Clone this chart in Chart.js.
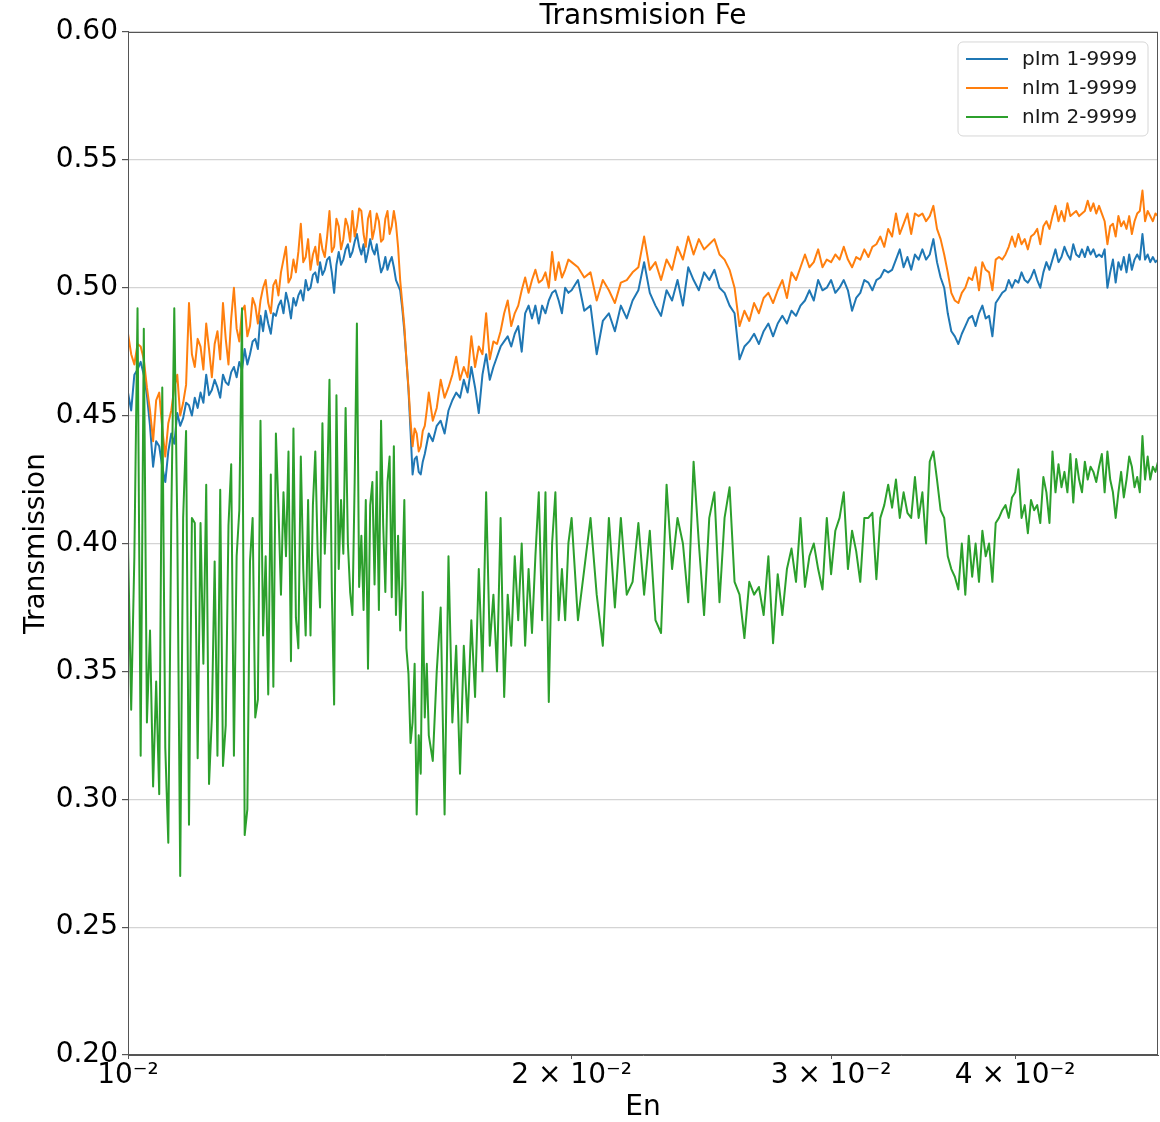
<!DOCTYPE html>
<html>
<head>
<meta charset="utf-8">
<title>Transmision Fe</title>
<script src="https://cdn.jsdelivr.net/npm/chart.js@4/dist/chart.umd.min.js"></script>
<style>
  html, body { margin: 0; padding: 0; background: #ffffff; }
  #wrap { width: 1160px; height: 1122px; }
</style>
</head>
<body>
<div id="wrap"><canvas id="chart" width="1160" height="1122"></canvas></div>
<script>
// Neutron energy grid shared by the three runs (finer below 0.016)
const energy = [
  0.01000,0.01005,0.01010,0.01015,0.01020,0.01025,0.01030,0.01035,0.01040,0.01045,
  0.01050,0.01055,0.01060,0.01065,0.01070,0.01075,0.01080,0.01085,0.01090,0.01095,
  0.01100,0.01105,0.01110,0.01115,0.01120,0.01125,0.01130,0.01135,0.01140,0.01145,
  0.01150,0.01155,0.01160,0.01165,0.01170,0.01175,0.01180,0.01185,0.01190,0.01195,
  0.01200,0.01205,0.01210,0.01215,0.01220,0.01225,0.01230,0.01235,0.01240,0.01245,
  0.01250,0.01255,0.01260,0.01265,0.01270,0.01275,0.01280,0.01285,0.01290,0.01295,
  0.01300,0.01305,0.01310,0.01315,0.01320,0.01325,0.01330,0.01335,0.01340,0.01345,
  0.01350,0.01355,0.01360,0.01365,0.01370,0.01375,0.01380,0.01385,0.01390,0.01395,
  0.01400,0.01405,0.01410,0.01415,0.01420,0.01425,0.01430,0.01435,0.01440,0.01445,
  0.01450,0.01455,0.01460,0.01465,0.01470,0.01475,0.01480,0.01485,0.01490,0.01495,
  0.01500,0.01505,0.01510,0.01515,0.01520,0.01525,0.01530,0.01535,0.01540,0.01545,
  0.01550,0.01555,0.01560,0.01565,0.01570,0.01575,0.01580,0.01585,0.01590,0.01595,
  0.0160,0.0161,0.0162,0.0163,0.0164,0.0165,0.0166,0.0167,0.0168,0.0169,
  0.0170,0.0171,0.0172,0.0173,0.0174,0.0175,0.0176,0.0177,0.0178,0.0179,
  0.0180,0.0181,0.0182,0.0183,0.0184,0.0185,0.0186,0.0187,0.0188,0.0189,
  0.0190,0.0191,0.0192,0.0193,0.0194,0.0195,0.0196,0.0197,0.0198,0.0199,
  0.0200,0.0202,0.0204,0.0206,0.0208,0.0210,0.0212,0.0214,0.0216,0.0218,
  0.0220,0.0222,0.0224,0.0226,0.0228,0.0230,0.0232,0.0234,0.0236,0.0238,
  0.0240,0.0242,0.0244,0.0246,0.0248,0.0250,0.0252,0.0254,0.0256,0.0258,
  0.0260,0.0262,0.0264,0.0266,0.0268,0.0270,0.0272,0.0274,0.0276,0.0278,
  0.0280,0.0282,0.0284,0.0286,0.0288,0.0290,0.0292,0.0294,0.0296,0.0298,
  0.0300,0.0302,0.0304,0.0306,0.0308,0.0310,0.0312,0.0314,0.0316,0.0318,
  0.0320,0.0322,0.0324,0.0326,0.0328,0.0330,0.0332,0.0334,0.0336,0.0338,
  0.0340,0.0342,0.0344,0.0346,0.0348,0.0350,0.0352,0.0354,0.0356,0.0358,
  0.0360,0.0362,0.0364,0.0366,0.0368,0.0370,0.0372,0.0374,0.0376,0.0378,
  0.0380,0.0382,0.0384,0.0386,0.0388,0.0390,0.0392,0.0394,0.0396,0.0398,
  0.0400,0.0402,0.0404,0.0406,0.0408,0.0410,0.0412,0.0414,0.0416,0.0418,
  0.0420,0.0422,0.0424,0.0426,0.0428,0.0430,0.0432,0.0434,0.0436,0.0438,
  0.0440,0.0442,0.0444,0.0446,0.0448,0.0450,0.0452,0.0454,0.0456,0.0458,
  0.0460,0.0462,0.0464,0.0466,0.0468,0.0470,0.0472,0.0474,0.0476,0.0478,
  0.0480,0.0482,0.0484,0.0486,0.0488,0.0490,0.0492,0.0494,0.0496,0.0498,
  0.0500
];

// pIm 1-9999
const plm1 = [
  0.459,0.452,0.466,0.468,0.471,0.466,0.458,0.446,0.430,0.440,
  0.438,0.430,0.424,0.436,0.443,0.439,0.451,0.446,0.449,0.455,
  0.454,0.450,0.457,0.453,0.459,0.455,0.466,0.458,0.460,0.464,
  0.461,0.457,0.466,0.463,0.462,0.467,0.469,0.465,0.471,0.468,
  0.476,0.470,0.474,0.479,0.480,0.476,0.489,0.483,0.491,0.486,
  0.482,0.490,0.489,0.493,0.495,0.490,0.498,0.494,0.488,0.496,
  0.493,0.497,0.499,0.495,0.503,0.499,0.500,0.505,0.506,0.502,
  0.510,0.505,0.507,0.511,0.512,0.506,0.498,0.509,0.514,0.509,
  0.511,0.515,0.517,0.512,0.514,0.518,0.521,0.516,0.513,0.517,
  0.510,0.514,0.519,0.515,0.513,0.517,0.511,0.506,0.508,0.512,
  0.507,0.510,0.512,0.508,0.503,0.501,0.499,0.492,0.483,0.472,
  0.460,0.444,0.427,0.433,0.434,0.428,0.427,0.432,0.435,0.439,
  0.443,0.440,0.446,0.448,0.443,0.452,0.456,0.459,0.457,0.464,
  0.459,0.469,0.461,0.451,0.466,0.474,0.464,0.469,0.473,0.477,
  0.479,0.481,0.477,0.482,0.485,0.475,0.490,0.493,0.488,0.493,
  0.486,0.493,0.490,0.495,0.498,0.499,0.495,0.490,0.500,0.498,
  0.499,0.503,0.491,0.493,0.474,0.487,0.490,0.483,0.493,0.488,
  0.495,0.499,0.510,0.498,0.493,0.489,0.499,0.495,0.503,0.493,
  0.508,0.503,0.499,0.506,0.503,0.507,0.500,0.498,0.493,0.490,
  0.472,0.477,0.479,0.482,0.478,0.483,0.486,0.481,0.486,0.489,
  0.486,0.491,0.489,0.493,0.495,0.499,0.495,0.503,0.499,0.500,
  0.503,0.498,0.500,0.503,0.499,0.491,0.496,0.498,0.503,0.502,
  0.499,0.503,0.504,0.507,0.506,0.507,0.511,0.515,0.508,0.512,
  0.507,0.513,0.511,0.515,0.511,0.513,0.519,0.510,0.504,0.500,
  0.490,0.483,0.481,0.478,0.482,0.485,0.488,0.489,0.485,0.490,
  0.493,0.488,0.489,0.481,0.494,0.496,0.498,0.499,0.503,0.500,
  0.503,0.502,0.506,0.503,0.502,0.504,0.507,0.503,0.500,0.506,
  0.510,0.507,0.511,0.515,0.510,0.512,0.516,0.513,0.511,0.517,
  0.513,0.512,0.515,0.512,0.516,0.513,0.515,0.512,0.513,0.512,
  0.515,0.500,0.506,0.511,0.502,0.510,0.507,0.512,0.506,0.513,
  0.507,0.511,0.513,0.511,0.521,0.511,0.513,0.510,0.512,0.510,
  0.511
];

// nIm 1-9999
const nlm1 = [
  0.482,0.474,0.470,0.478,0.477,0.472,0.461,0.452,0.440,0.456,
  0.459,0.445,0.434,0.447,0.452,0.461,0.466,0.450,0.455,0.462,
  0.494,0.474,0.469,0.480,0.477,0.468,0.486,0.476,0.465,0.478,
  0.483,0.472,0.494,0.480,0.470,0.488,0.500,0.484,0.479,0.491,
  0.493,0.481,0.485,0.496,0.493,0.486,0.495,0.500,0.503,0.494,
  0.490,0.501,0.503,0.497,0.506,0.511,0.516,0.502,0.504,0.511,
  0.506,0.514,0.525,0.510,0.512,0.519,0.507,0.513,0.516,0.509,
  0.521,0.515,0.512,0.520,0.530,0.514,0.516,0.527,0.524,0.515,
  0.519,0.527,0.524,0.518,0.530,0.520,0.524,0.531,0.530,0.521,
  0.516,0.527,0.530,0.519,0.523,0.529,0.526,0.518,0.519,0.527,
  0.530,0.521,0.524,0.530,0.525,0.516,0.503,0.494,0.485,0.472,
  0.461,0.448,0.438,0.445,0.443,0.436,0.438,0.444,0.446,0.452,
  0.459,0.448,0.453,0.464,0.457,0.461,0.466,0.473,0.464,0.469,
  0.465,0.481,0.469,0.477,0.474,0.490,0.472,0.479,0.478,0.483,
  0.490,0.495,0.485,0.490,0.493,0.499,0.504,0.498,0.503,0.507,
  0.502,0.503,0.506,0.500,0.514,0.503,0.510,0.504,0.507,0.511,
  0.510,0.508,0.504,0.506,0.495,0.503,0.499,0.494,0.502,0.503,
  0.506,0.508,0.520,0.507,0.510,0.503,0.511,0.507,0.516,0.511,
  0.520,0.513,0.519,0.515,0.517,0.519,0.513,0.511,0.507,0.500,
  0.485,0.491,0.487,0.494,0.490,0.496,0.498,0.494,0.499,0.503,
  0.496,0.506,0.503,0.508,0.513,0.508,0.510,0.515,0.508,0.511,
  0.510,0.513,0.511,0.516,0.511,0.508,0.512,0.511,0.515,0.512,
  0.516,0.517,0.520,0.516,0.523,0.520,0.529,0.521,0.525,0.529,
  0.521,0.529,0.528,0.529,0.526,0.528,0.532,0.523,0.519,0.513,
  0.506,0.498,0.495,0.494,0.498,0.500,0.504,0.503,0.508,0.499,
  0.510,0.507,0.506,0.499,0.511,0.512,0.511,0.513,0.516,0.520,
  0.516,0.521,0.517,0.519,0.515,0.520,0.521,0.523,0.517,0.524,
  0.526,0.523,0.528,0.532,0.526,0.530,0.526,0.533,0.528,0.529,
  0.530,0.528,0.529,0.530,0.534,0.530,0.533,0.529,0.532,0.529,
  0.526,0.517,0.524,0.525,0.520,0.528,0.524,0.526,0.523,0.528,
  0.521,0.526,0.529,0.530,0.538,0.526,0.530,0.528,0.526,0.529,
  0.528
];

// nIm 2-9999
const nlm2 = [
  0.400,0.335,0.395,0.492,0.317,0.484,0.330,0.366,0.305,0.346,
  0.302,0.461,0.320,0.283,0.411,0.492,0.408,0.270,0.410,0.444,
  0.290,0.410,0.408,0.316,0.408,0.353,0.423,0.306,0.332,0.393,
  0.317,0.421,0.313,0.329,0.407,0.431,0.317,0.395,0.413,0.492,
  0.286,0.296,0.393,0.410,0.332,0.339,0.448,0.364,0.395,0.341,
  0.427,0.344,0.443,0.414,0.380,0.420,0.395,0.436,0.354,0.445,
  0.371,0.359,0.434,0.390,0.364,0.417,0.364,0.415,0.436,0.396,
  0.375,0.447,0.396,0.421,0.464,0.382,0.337,0.458,0.390,0.417,
  0.396,0.453,0.400,0.381,0.372,0.424,0.486,0.383,0.403,0.374,
  0.417,0.351,0.415,0.424,0.384,0.428,0.374,0.448,0.407,0.381,
  0.424,0.434,0.379,0.438,0.372,0.403,0.366,0.384,0.417,0.359,
  0.349,0.322,0.330,0.353,0.294,0.325,0.310,0.381,0.332,0.353,
  0.325,0.315,0.350,0.375,0.294,0.395,0.330,0.360,0.310,0.360,
  0.330,0.370,0.340,0.390,0.350,0.420,0.360,0.380,0.350,0.410,
  0.340,0.380,0.360,0.395,0.370,0.400,0.360,0.390,0.365,0.395,
  0.420,0.370,0.420,0.338,0.400,0.420,0.370,0.390,0.370,0.400,
  0.410,0.370,0.390,0.410,0.380,0.360,0.410,0.375,0.410,0.380,
  0.385,0.408,0.380,0.405,0.370,0.365,0.423,0.390,0.410,0.400,
  0.377,0.432,0.400,0.372,0.410,0.420,0.377,0.410,0.422,0.385,
  0.380,0.363,0.385,0.380,0.383,0.372,0.395,0.361,0.388,0.372,
  0.390,0.398,0.385,0.410,0.383,0.395,0.400,0.390,0.382,0.410,
  0.388,0.405,0.410,0.420,0.390,0.405,0.397,0.385,0.410,0.410,
  0.412,0.386,0.410,0.415,0.423,0.414,0.425,0.410,0.420,0.412,
  0.410,0.426,0.410,0.420,0.400,0.432,0.436,0.425,0.413,0.410,
  0.395,0.390,0.387,0.382,0.400,0.380,0.403,0.387,0.400,0.385,
  0.405,0.395,0.400,0.385,0.408,0.410,0.413,0.415,0.410,0.418,
  0.420,0.429,0.410,0.415,0.404,0.417,0.413,0.415,0.408,0.426,
  0.420,0.408,0.436,0.420,0.431,0.422,0.428,0.420,0.435,0.416,
  0.433,0.425,0.420,0.432,0.425,0.430,0.428,0.424,0.430,0.435,
  0.420,0.436,0.425,0.420,0.410,0.420,0.428,0.418,0.425,0.434,
  0.430,0.422,0.426,0.420,0.442,0.425,0.434,0.425,0.430,0.428,
  0.432
];

const seriesNames = ['pIm 1-9999', 'nIm 1-9999', 'nIm 2-9999'];
const seriesColors = ['#1f77b4', '#ff7f0e', '#2ca02c'];

// Axis ticks
const xTickValues = [0.01, 0.02, 0.03, 0.04];
const xTickLabels = ['10\u207B\u00B2', '2 \u00D7 10\u207B\u00B2', '3 \u00D7 10\u207B\u00B2', '4 \u00D7 10\u207B\u00B2'];
const yTickValues = [0.20, 0.25, 0.30, 0.35, 0.40, 0.45, 0.50, 0.55, 0.60];

const FONT = '"DejaVu Sans", "Liberation Sans", sans-serif';
Chart.defaults.font.family = FONT;
Chart.defaults.color = '#000000';

const LINE_WIDTH = 2;

const toPoints = (ys) => energy.map((e, k) => ({ x: e, y: ys[k] }));

// Spines drawn over the curves, like a boxed axes frame
const axesFrame = {
  id: 'axesFrame',
  afterDatasetsDraw(chart) {
    const { ctx, chartArea: a } = chart;
    ctx.save();
    ctx.strokeStyle = '#555555';
    ctx.lineWidth = 1;
    ctx.strokeRect(Math.round(a.left) + 0.5, Math.round(a.top) + 0.5,
                   Math.round(a.right - a.left) - 1, Math.round(a.bottom - a.top) - 1);
    ctx.restore();
  }
};

// Legend box in the upper-right corner of the plot area
const insetLegend = {
  id: 'insetLegend',
  afterDraw(chart) {
    const { ctx, chartArea: a } = chart;
    const w = 190, h = 94, r = 5;
    const x0 = a.right - 10 - w, y0 = a.top + 10;
    ctx.save();
    ctx.beginPath();
    ctx.moveTo(x0 + r, y0);
    ctx.arcTo(x0 + w, y0, x0 + w, y0 + h, r);
    ctx.arcTo(x0 + w, y0 + h, x0, y0 + h, r);
    ctx.arcTo(x0, y0 + h, x0, y0, r);
    ctx.arcTo(x0, y0, x0 + w, y0, r);
    ctx.closePath();
    ctx.fillStyle = 'rgba(255,255,255,0.85)';
    ctx.fill();
    ctx.strokeStyle = '#d6d6d6';
    ctx.lineWidth = 1;
    ctx.stroke();
    ctx.font = '20px ' + FONT;
    ctx.textBaseline = 'middle';
    ctx.textAlign = 'left';
    chart.data.datasets.forEach((ds, k) => {
      const yy = y0 + 17 + k * 29;
      ctx.strokeStyle = ds.borderColor;
      ctx.lineWidth = LINE_WIDTH;
      ctx.beginPath();
      ctx.moveTo(x0 + 8, yy);
      ctx.lineTo(x0 + 50, yy);
      ctx.stroke();
      ctx.fillStyle = '#1a1a1a';
      ctx.fillText(ds.label, x0 + 64, yy + 1);
    });
    ctx.restore();
  }
};

new Chart(document.getElementById('chart'), {
  type: 'line',
  data: {
    datasets: [
      { label: seriesNames[0], data: toPoints(plm1), borderColor: seriesColors[0], order: 3 },
      { label: seriesNames[1], data: toPoints(nlm1), borderColor: seriesColors[1], order: 2 },
      { label: seriesNames[2], data: toPoints(nlm2), borderColor: seriesColors[2], order: 1 }
    ]
  },
  options: {
    responsive: false,
    animation: false,
    events: [],
    datasets: { line: { borderWidth: LINE_WIDTH, pointRadius: 0, tension: 0, fill: false, borderJoinStyle: 'round' } },
    layout: { padding: { left: 0, right: 2, top: 0, bottom: 0 } },
    plugins: {
      legend: { display: false },
      tooltip: { enabled: false },
      title: {
        display: true,
        fullSize: false,
        text: 'Transmision Fe',
        color: '#000000',
        font: { size: 28, weight: 'normal', lineHeight: 1.07 },
        padding: { top: 2, bottom: 0 }
      }
    },
    scales: {
      x: {
        type: 'logarithmic',
        min: 0.01,
        max: 0.05,
        afterFit: (s) => { s.height = 67; },
        afterBuildTicks: (s) => { s.ticks = xTickValues.map(v => ({ value: v, major: true })); },
        ticks: {
          autoSkip: false,
          maxRotation: 0,
          padding: 0,
          font: { size: 28 },
          color: '#000000',
          callback: (v, i) => xTickLabels[i]
        },
        grid: { display: true, drawOnChartArea: false, drawTicks: true, tickLength: 4, tickColor: '#555555' },
        border: { display: true, color: '#555555' },
        title: {
          display: true,
          text: 'En',
          color: '#000000',
          font: { size: 28, lineHeight: 1 },
          padding: { top: 0, bottom: 0 }
        }
      },
      y: {
        type: 'linear',
        min: 0.20,
        max: 0.60,
        afterFit: (s) => { s.width = 128; },
        afterBuildTicks: (s) => { s.ticks = yTickValues.map(v => ({ value: v })); },
        ticks: {
          padding: 4,
          font: { size: 28 },
          color: '#000000',
          callback: (v) => Number(v).toFixed(2)
        },
        grid: { color: '#d4d4d4', lineWidth: 1.2, drawTicks: true, tickLength: 6, tickColor: '#555555' },
        border: { display: true, color: '#555555' },
        title: {
          display: true,
          text: 'Transmission',
          color: '#000000',
          font: { size: 28, lineHeight: 1 },
          padding: { top: 23, bottom: 0 }
        }
      }
    }
  },
  plugins: [axesFrame, insetLegend]
});
</script>
</body>
</html>
